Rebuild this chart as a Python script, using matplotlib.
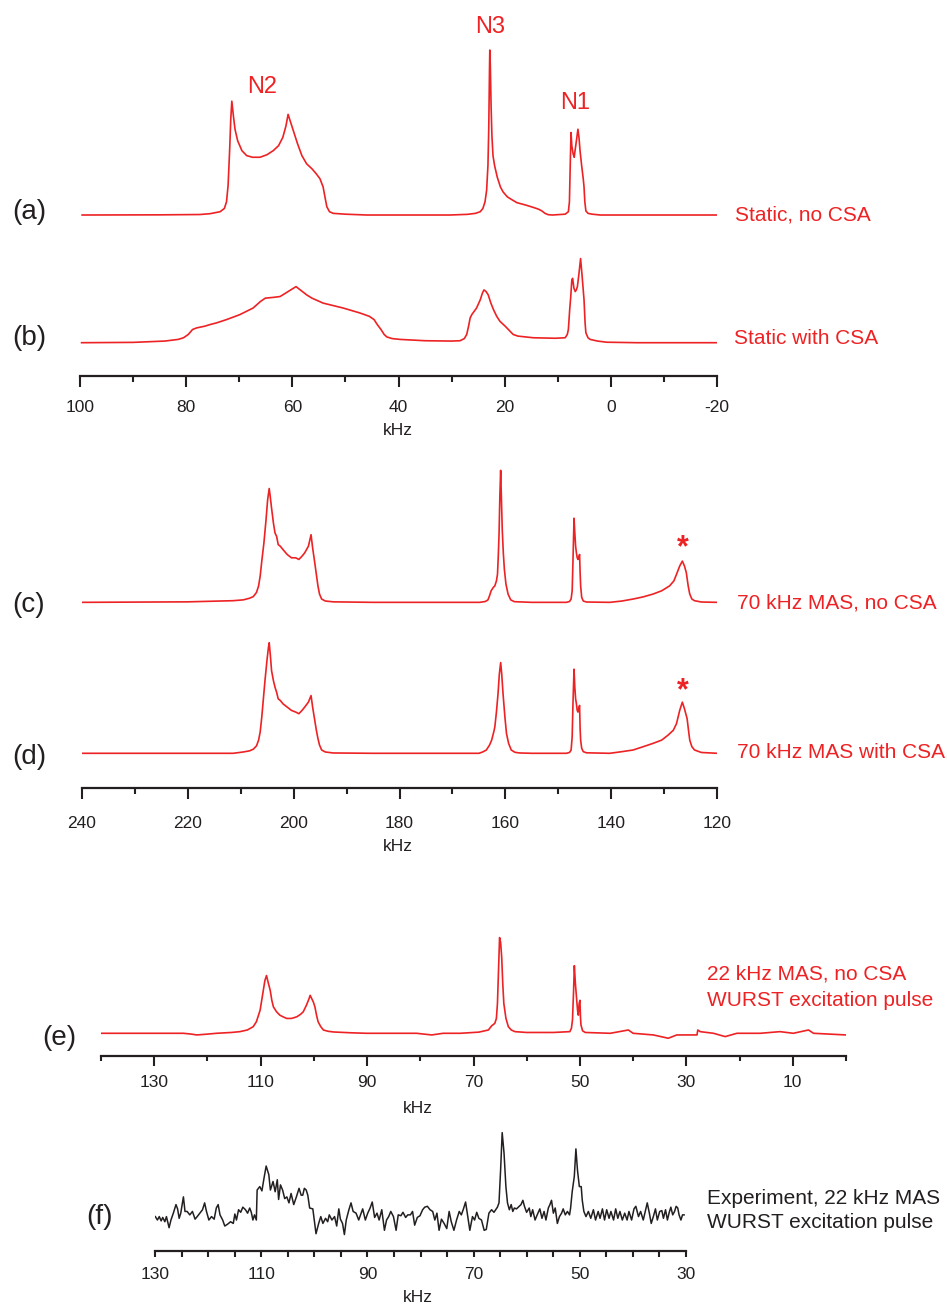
import matplotlib
matplotlib.use("Agg")
import matplotlib.pyplot as plt

plt.rcParams['font.family'] = ['Liberation Sans', 'DejaVu Sans']
plt.rcParams['axes.unicode_minus'] = False

# ---- spectra: frequency (kHz) and relative intensity ----
# (a) static, no CSA
a_khz = [99.6, 85.0, 77.4, 75.5, 73.6, 72.8, 72.4, 72.1, 71.8, 71.6,
         71.4, 71.1, 70.8, 70.3, 69.5, 68.6, 67.5, 66.1, 64.8, 63.6,
         62.6, 61.8, 61.2, 60.8, 60.3, 59.9, 59.0, 58.2, 57.3, 56.3,
         55.5, 54.8, 54.2, 53.8, 53.5, 53.0, 52.3, 50.0, 46.0, 30.3,
         27.0, 25.5, 24.6, 24.1, 23.7, 23.4, 23.15, 23.0, 22.85, 22.8,
         22.7, 22.55, 22.4, 22.2, 21.9, 21.4, 20.8, 20.3, 19.5, 18.5,
         17.7, 16.0, 14.5, 13.6, 13.0, 12.4, 11.8, 11.0, 8.6, 8.0,
         7.8, 7.65, 7.5, 7.35, 7.1, 6.9, 6.7, 6.4, 6.2, 6.0,
         5.8, 5.5, 5.2, 5.05, 4.9, 4.7, 4.3, 3.5, 2.0, -20.0]
a_int = [0.0, 0.001, 0.003, 0.008, 0.02, 0.04, 0.08, 0.18, 0.40, 0.58,
         0.69, 0.60, 0.52, 0.45, 0.39, 0.36, 0.35, 0.35, 0.365, 0.39,
         0.42, 0.47, 0.54, 0.61, 0.56, 0.52, 0.43, 0.36, 0.31, 0.28,
         0.25, 0.22, 0.17, 0.10, 0.05, 0.02, 0.01, 0.005, 0.0, 0.0,
         0.004, 0.01, 0.02, 0.04, 0.08, 0.15, 0.30, 0.52, 0.90, 1.0,
         0.90, 0.65, 0.48, 0.36, 0.30, 0.23, 0.17, 0.14, 0.11, 0.09,
         0.075, 0.06, 0.045, 0.035, 0.025, 0.01, 0.002, 0.0, 0.005, 0.02,
         0.08, 0.30, 0.50, 0.42, 0.37, 0.35, 0.40, 0.47, 0.52, 0.47,
         0.39, 0.30, 0.22, 0.17, 0.08, 0.025, 0.01, 0.005, 0.0, 0.0]

# (b) static with CSA
b_khz = [99.7, 90.0, 84.0, 81.5, 80.5, 79.6, 78.8, 78.0, 76.5, 75.5,
         74.3, 72.4, 69.9, 67.4, 66.0, 65.1, 63.5, 62.3, 60.8, 59.3,
         58.5, 57.3, 56.3, 54.2, 50.4, 47.25, 45.5, 44.6, 44.0, 43.3,
         42.7, 42.2, 41.2, 39.7, 35.0, 30.0, 28.4, 27.6, 27.15, 26.8,
         26.5, 26.2, 25.3, 24.6, 24.2, 23.9, 23.5, 23.1, 22.6, 22.1,
         21.5, 20.9, 19.9, 19.0, 18.4, 17.5, 14.6, 10.5, 8.6, 8.2,
         8.0, 7.75, 7.55, 7.35, 7.2, 6.95, 6.7, 6.5, 6.3, 6.0,
         5.7, 5.4, 5.05, 4.85, 4.7, 4.3, 3.9, 2.5, 0.8, -5.0, -20.0]
b_int = [0.0, 0.002, 0.01, 0.02, 0.03, 0.05, 0.08, 0.09, 0.10, 0.11,
         0.12, 0.14, 0.17, 0.21, 0.25, 0.27, 0.275, 0.28, 0.31, 0.34,
         0.32, 0.29, 0.27, 0.24, 0.21, 0.18, 0.16, 0.14, 0.11, 0.08,
         0.05, 0.035, 0.025, 0.02, 0.012, 0.01, 0.012, 0.025, 0.05, 0.10,
         0.15, 0.17, 0.21, 0.26, 0.30, 0.32, 0.31, 0.29, 0.24, 0.20,
         0.16, 0.13, 0.10, 0.07, 0.05, 0.04, 0.03, 0.027, 0.03, 0.05,
         0.08, 0.20, 0.28, 0.38, 0.39, 0.33, 0.31, 0.32, 0.34, 0.42,
         0.51, 0.40, 0.26, 0.12, 0.06, 0.03, 0.02, 0.01, 0.003, 0.0, 0.0]

# (c) 70 kHz MAS, no CSA
c_khz = [240.0, 220.0, 211.4, 209.5, 208.3, 207.6, 207.0, 206.6, 206.3, 206.0,
         205.6, 205.2, 204.9, 204.6, 204.4, 204.15, 203.8, 203.5, 203.2, 202.9,
         202.5, 202.0, 201.2, 200.4, 199.6, 199.0, 198.4, 197.9, 197.2, 196.7,
         196.4, 196.0, 195.7, 195.4, 195.1, 194.7, 194.0, 192.5, 185.0, 164.85,
         163.8, 163.3, 163.0, 162.7, 162.3, 162.0, 161.7, 161.5, 161.35, 161.2,
         161.05, 160.9, 160.75, 160.6, 160.4, 160.2, 159.9, 159.5, 159.0, 158.3,
         155.0, 148.5, 147.9, 147.6, 147.4, 147.25, 147.05, 146.9, 146.75, 146.6,
         146.45, 146.3, 146.1, 146.0, 145.9, 145.8, 145.6, 145.3, 144.7, 140.3,
         138.0, 135.9, 134.0, 132.15, 130.5, 129.0, 128.2, 127.7, 127.1, 126.6,
         126.2, 125.85, 125.5, 125.2, 124.8, 124.3, 123.0, 120.0]
c_int = [0.0, 0.003, 0.01, 0.015, 0.025, 0.035, 0.06, 0.10, 0.16, 0.25,
         0.36, 0.50, 0.62, 0.69, 0.64, 0.57, 0.48, 0.42, 0.40, 0.35,
         0.34, 0.32, 0.29, 0.27, 0.27, 0.26, 0.28, 0.30, 0.34, 0.41,
         0.33, 0.24, 0.17, 0.10, 0.05, 0.02, 0.008, 0.003, 0.0, 0.0,
         0.005, 0.015, 0.04, 0.07, 0.09, 0.10, 0.13, 0.17, 0.28, 0.42,
         0.65, 0.80, 0.62, 0.44, 0.30, 0.20, 0.11, 0.05, 0.015, 0.004,
         0.0, 0.0, 0.005, 0.02, 0.07, 0.25, 0.51, 0.42, 0.34, 0.30,
         0.27, 0.26, 0.28, 0.29, 0.18, 0.10, 0.03, 0.008, 0.002, 0.0,
         0.008, 0.02, 0.033, 0.05, 0.07, 0.10, 0.13, 0.17, 0.22, 0.25,
         0.22, 0.18, 0.10, 0.05, 0.02, 0.01, 0.002, 0.0]

# (d) 70 kHz MAS with CSA
d_khz = [240.0, 220.0, 211.4, 209.5, 208.3, 207.6, 207.0, 206.6, 206.3, 206.0,
         205.7, 205.4, 205.0, 204.75, 204.6, 204.4, 204.15, 203.8, 203.5, 203.2,
         202.9, 202.5, 202.0, 201.2, 200.4, 199.6, 199.0, 198.4, 197.9, 197.2,
         196.7, 196.4, 196.0, 195.7, 195.4, 195.1, 194.7, 194.0, 192.5, 185.0,
         165.0, 164.3, 163.6, 163.0, 162.6, 162.2, 162.0, 161.7, 161.4, 161.15,
         160.9, 160.7, 160.45, 160.1, 159.8, 159.4, 158.9, 158.2, 157.3, 155.0,
         148.5, 147.9, 147.6, 147.4, 147.25, 147.05, 146.9, 146.75, 146.6, 146.45,
         146.3, 146.1, 146.0, 145.9, 145.8, 145.6, 145.3, 144.7, 140.3, 138.0,
         135.9, 134.0, 132.15, 130.5, 129.3, 128.3, 127.7, 127.1, 126.6, 126.2,
         125.7, 125.4, 125.2, 124.8, 124.3, 123.0, 120.0]
d_int = [0.0, 0.0, 0.0, 0.008, 0.015, 0.025, 0.045, 0.08, 0.13, 0.22,
         0.33, 0.44, 0.57, 0.64, 0.67, 0.60, 0.50, 0.44, 0.40, 0.37,
         0.33, 0.32, 0.30, 0.28, 0.26, 0.25, 0.24, 0.26, 0.28, 0.31,
         0.35, 0.28, 0.20, 0.14, 0.09, 0.05, 0.02, 0.008, 0.002, 0.0,
         0.0, 0.008, 0.02, 0.05, 0.08, 0.13, 0.16, 0.25, 0.36, 0.48,
         0.55, 0.48, 0.36, 0.22, 0.12, 0.06, 0.02, 0.006, 0.002, 0.0,
         0.0, 0.005, 0.02, 0.10, 0.30, 0.51, 0.40, 0.33, 0.30, 0.26,
         0.25, 0.28, 0.29, 0.15, 0.08, 0.03, 0.01, 0.003, 0.0, 0.01,
         0.02, 0.04, 0.06, 0.08, 0.11, 0.14, 0.18, 0.26, 0.31, 0.27,
         0.21, 0.13, 0.08, 0.04, 0.02, 0.005, 0.0]

# (e) 22 kHz MAS, no CSA, WURST
e_khz = [140.0, 130.8, 124.5, 123.0, 122.0, 120.0, 118.3, 115.5, 113.9, 112.5,
         111.4, 110.8, 110.4, 110.1, 109.8, 109.5, 109.2, 108.9, 108.6, 108.2,
         107.9, 107.6, 107.0, 106.4, 105.8, 105.1, 104.2, 103.2, 102.5, 102.0,
         101.4, 100.9, 100.7, 100.4, 100.1, 99.8, 99.5, 99.2, 98.7, 98.2,
         97.3, 96.3, 93.0, 90.1, 80.7, 77.85, 75.7, 72.5, 69.0, 67.2,
         66.6, 66.0, 65.7, 65.5, 65.3, 65.1, 64.9, 64.7, 64.5, 64.3,
         63.9, 63.45, 62.9, 62.2, 60.0, 55.0, 51.9, 51.6, 51.4, 51.2,
         51.05, 50.85, 50.6, 50.45, 50.3, 50.15, 50.0, 49.9, 49.8, 49.5,
         49.0, 44.3, 40.9, 40.0, 36.2, 33.4, 31.8, 28.0, 27.85, 27.4,
         24.9, 22.7, 20.5, 16.1, 12.4, 9.9, 7.05, 6.1, 0.0]
e_int = [0.0, 0.0, 0.0, -0.005, -0.01, -0.005, 0.0, 0.005, 0.01, 0.02,
         0.04, 0.07, 0.11, 0.14, 0.20, 0.26, 0.32, 0.35, 0.31, 0.26,
         0.20, 0.16, 0.13, 0.11, 0.10, 0.09, 0.09, 0.10, 0.115, 0.13,
         0.17, 0.21, 0.23, 0.21, 0.19, 0.16, 0.11, 0.07, 0.04, 0.02,
         0.012, 0.008, 0.003, 0.0, 0.0, -0.01, 0.0, 0.0, 0.007, 0.02,
         0.045, 0.06, 0.09, 0.18, 0.38, 0.58, 0.55, 0.46, 0.30, 0.18,
         0.09, 0.04, 0.02, 0.01, 0.005, 0.005, 0.01, 0.03, 0.08, 0.25,
         0.41, 0.30, 0.20, 0.14, 0.11, 0.18, 0.20, 0.10, 0.05, 0.015,
         0.005, 0.0, 0.02, 0.0, -0.01, -0.03, -0.01, -0.01, 0.02, 0.01,
         0.0, -0.02, 0.0, 0.0, 0.01, 0.0, 0.02, 0.0, -0.01]

# (f) experiment, 22 kHz MAS
f_khz = [130.0, 129.6, 129.25, 128.9, 128.6, 128.2, 127.9, 127.4, 127.05, 126.6, 126.1, 125.8,
         125.5, 125.2, 124.7, 124.4, 124.0, 123.5, 123.0, 122.5, 122.1, 121.6, 121.1, 120.7,
         120.35, 119.9, 119.4, 118.9, 118.5, 118.15, 117.8, 117.3, 116.9, 116.4, 115.8, 115.3,
         115.0, 114.7, 114.3, 113.9, 113.5, 113.0, 112.6, 112.2, 111.9, 111.6, 111.3, 110.95,
         110.8, 110.3, 109.9, 109.5, 109.1, 108.6, 108.3, 107.8, 107.4, 107.0, 106.75, 106.4,
         106.0, 105.6, 105.2, 104.8, 104.4, 103.9, 103.4, 102.9, 102.5, 102.2, 101.9, 101.55,
         101.25, 100.9, 100.3, 99.7, 99.2, 98.8, 98.4, 97.9, 97.5, 97.2, 96.7, 96.2, 95.8, 95.4,
         95.1, 94.7, 94.35, 94.0, 93.5, 93.1, 92.7, 92.15, 91.65, 91.3, 90.9, 90.4, 89.95, 89.5,
         89.1, 88.65, 88.2, 87.8, 87.3, 86.8, 86.4, 86.0, 85.6, 85.1, 84.6, 84.2, 83.7, 83.3,
         82.8, 82.4, 81.9, 81.5, 81.1, 80.6, 80.1, 79.6, 79.2, 78.7, 78.2, 77.7, 77.3, 76.9,
         76.5, 76.05, 75.55, 75.05, 74.6, 74.2, 73.7, 73.2, 72.7, 72.3, 71.9, 71.5, 71.0, 70.7,
         70.2, 69.8, 69.4, 69.0, 68.5, 68.0, 67.6, 67.1, 66.6, 66.15, 65.7, 65.5, 65.2, 64.9,
         64.6, 64.25, 63.9, 63.6, 63.25, 62.9, 62.6, 62.3, 61.9, 61.4, 61.05, 60.7, 60.4, 60.0,
         59.5, 59.2, 58.85, 58.4, 58.0, 57.5, 57.1, 56.7, 56.35, 55.9, 55.6, 55.3, 54.95, 54.6,
         54.2, 53.8, 53.4, 53.1, 52.7, 52.3, 51.9, 51.7, 51.4, 51.0, 50.7, 50.4, 50.05, 49.7,
         49.5, 49.2, 48.8, 48.35, 47.9, 47.4, 47.0, 46.5, 46.15, 45.7, 45.3, 44.9, 44.45, 44.1,
         43.6, 43.2, 42.8, 42.4, 41.95, 41.5, 41.05, 40.7, 40.2, 39.75, 39.4, 38.9, 38.5, 38.0,
         37.55, 37.25, 36.85, 36.5, 36.1, 35.7, 35.35, 34.9, 34.5, 34.2, 33.8, 33.45, 33.1, 32.8,
         32.45, 32.1, 31.8, 31.5, 31.25, 30.9, 30.6, 30.3]
f_int = [0.02, -0.02, 0.02, -0.03, 0.01, -0.04, 0.02, -0.11, -0.02, 0.06, 0.16, 0.11,
         0.0, 0.06, 0.25, 0.08, 0.08, 0.04, 0.08, -0.01, 0.02, 0.06, 0.10, 0.18,
         0.08, -0.02, 0.02, -0.01, 0.12, 0.16, 0.04, -0.02, -0.09, -0.07, -0.04, -0.06,
         0.05, -0.02, 0.10, 0.07, 0.13, 0.10, 0.06, 0.12, 0.07, -0.02, 0.04, -0.02,
         0.33, 0.37, 0.32, 0.47, 0.61, 0.51, 0.33, 0.43, 0.31, 0.45, 0.22, 0.39,
         0.33, 0.23, 0.25, 0.18, 0.29, 0.16, 0.25, 0.35, 0.27, 0.27, 0.35, 0.33,
         0.27, 0.12, 0.11, -0.18, -0.06, 0.02, -0.06, 0.0, -0.04, 0.04, -0.02, 0.02, -0.09, 0.11,
         -0.01, -0.06, -0.19, -0.02, 0.10, 0.18, 0.08, 0.06, -0.02, 0.04, 0.11, -0.02, 0.06, 0.12,
         0.19, 0.01, 0.06, -0.02, 0.10, -0.14, -0.02, 0.02, 0.08, 0.02, -0.14, 0.04, 0.03, 0.07,
         0.01, 0.04, 0.04, 0.08, -0.08, 0.01, 0.03, 0.10, 0.13, 0.14, 0.10, 0.08, -0.02, 0.06,
         -0.14, -0.01, -0.06, -0.12, 0.08, -0.04, -0.14, -0.02, 0.08, 0.04, 0.11, 0.19, -0.02, -0.14,
         0.02, -0.02, 0.07, 0.0, -0.02, -0.14, -0.13, 0.06, 0.10, 0.07, 0.11, 0.13, 0.18, 0.56,
         1.00, 0.76, 0.37, 0.18, 0.10, 0.16, 0.08, 0.12, 0.11, 0.14, 0.16, 0.21, 0.14, 0.07,
         0.12, 0.02, 0.10, -0.02, 0.04, 0.11, 0.0, 0.08, -0.02, 0.12, 0.16, 0.21, 0.06, 0.12,
         -0.06, 0.02, 0.06, 0.11, 0.04, 0.08, 0.04, 0.12, 0.31, 0.49, 0.81, 0.56, 0.37, 0.37,
         0.21, 0.08, 0.02, 0.08, 0.0, 0.10, -0.02, 0.08, 0.0, 0.11, -0.02, 0.10, 0.0, 0.08,
         -0.02, 0.11, 0.0, 0.08, -0.02, 0.06, -0.02, 0.08, -0.02, 0.11, 0.14, 0.02, 0.08, -0.02,
         0.10, 0.18, 0.06, -0.06, 0.02, 0.11, -0.02, 0.08, 0.09, 0.0, 0.10, -0.02, 0.07, 0.13,
         0.04, 0.08, 0.14, 0.12, 0.04, -0.02, 0.04, 0.04]

RED = '#ED2224'
DARK = '#231F20'
W, H = 947, 1305


def fx(px):
    return px / W


def fy(py):
    return 1 - py / H


def make_axes(left, right, top, bottom):
    return fig.add_axes([fx(left), fy(bottom), fx(right) - fx(left), (bottom - top) / H])


def style(ax, xlim, ylim, major, minor, maj_len, min_len, pad):
    ax.set_xlim(*xlim)
    ax.set_ylim(*ylim)
    for s in ['left', 'right', 'top']:
        ax.spines[s].set_visible(False)
    ax.spines['bottom'].set_linewidth(1.6)
    ax.spines['bottom'].set_color(DARK)
    ax.set_yticks([])
    ax.set_xticks(major)
    ax.set_xticks(minor, minor=True)
    ax.tick_params(axis='x', which='major', direction='out', length=maj_len, width=1.5,
                   labelsize=12.5, pad=pad, colors=DARK)
    ax.tick_params(axis='x', which='minor', direction='out', length=min_len, width=1.5, colors=DARK)
    ax.patch.set_alpha(0)


fig = plt.figure(figsize=(W / 100, H / 100), dpi=100)

# offsets used to stack spectra
off_a = 0.774
off_c = 0.915

# panel (a)/(b)
ax1 = make_axes(80, 717, 20, 376)
ax1.plot(a_khz, [v + off_a for v in a_int], color=RED, lw=1.2)
ax1.plot(b_khz, b_int, color=RED, lw=1.2)
style(ax1, (100, -20), (-0.2018, 1.956), [100, 80, 60, 40, 20, 0, -20],
      [90, 70, 50, 30, 10, -10], 8, 4.5, 9)

# panel (c)/(d)
ax2 = make_axes(81.7, 717.3, 440, 788)
ax2.plot(c_khz, [v + off_c for v in c_int], color=RED, lw=1.2)
ax2.plot(d_khz, d_int, color=RED, lw=1.2)
style(ax2, (240, 120), (-0.2103, 1.899), [240, 220, 200, 180, 160, 140, 120],
      [230, 210, 190, 170, 150, 130], 8, 4.5, 12)

# panel (e)
ax3 = make_axes(101, 846, 930, 1056)
ax3.plot(e_khz, e_int, color=RED, lw=1.2)
style(ax3, (140, 0), (-0.1376, 0.626), [130, 110, 90, 70, 50, 30, 10],
      [140, 120, 100, 80, 60, 40, 20, 0], 7, 3.5, 7)

# panel (f)
ax4 = make_axes(155.3, 685.7, 1110, 1251)
ax4.plot(f_khz, f_int, color=DARK, lw=1.1)
style(ax4, (130, 30), (-0.3816, 1.264), [130, 110, 90, 70, 50, 30],
      [125, 120, 115, 105, 100, 95, 85, 80, 75, 65, 60, 55, 45, 40, 35], 4, 4, 7.5)

# axis titles
for x, y in [(397.5, 431), (398, 846.7), (418.3, 1108.3), (417.5, 1298)]:
    fig.text(fx(x), fy(y), 'kHz', ha='center', va='center', fontsize=12.5, color=DARK)

# panel letters
for lab, x, y in [('(a)', 12, 212), ('(b)', 12, 338), ('(c)', 12, 605), ('(d)', 12, 756.5),
                  ('(e)', 42, 1038), ('(f)', 86, 1217)]:
    fig.text(fx(x), fy(y), lab, ha='left', va='center', fontsize=20, color=DARK)

# descriptions
for txt, x, y, c in [('Static, no CSA', 735, 215, RED),
                     ('Static with CSA', 734, 338.5, RED),
                     ('70 kHz MAS, no CSA', 736.5, 603.5, RED),
                     ('70 kHz MAS with CSA', 736.5, 752.5, RED),
                     ('22 kHz MAS, no CSA', 706.5, 973.5, RED),
                     ('WURST excitation pulse', 706.5, 1000, RED),
                     ('Experiment, 22 kHz MAS', 706.5, 1199, DARK),
                     ('WURST excitation pulse', 706.5, 1223, DARK)]:
    fig.text(fx(x), fy(y), txt, ha='left', va='center', fontsize=15, color=c)

# peak labels
for txt, x, y in [('N2', 262, 87), ('N3', 490, 27), ('N1', 575.5, 103)]:
    fig.text(fx(x), fy(y), txt, ha='center', va='center', fontsize=17, color=RED)
for y in [548, 691]:
    fig.text(fx(682.7), fy(y), '*', ha='center', va='center', fontsize=22, color=RED,
             fontweight='bold')

fig.savefig('out.png', dpi=100)
